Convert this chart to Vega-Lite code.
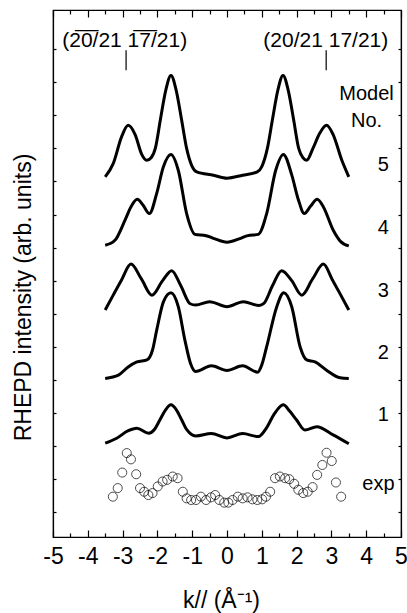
{
  "$schema": "https://vega.github.io/schema/vega-lite/v6.json",
  "width": 348,
  "height": 527,
  "autosize": {"type": "none"},
  "padding": {"left": 53, "top": 10, "right": 6, "bottom": 76},
  "background": "white",
  "config": {
    "font": "Liberation Sans",
    "view": {"stroke": "black", "strokeWidth": 1.2},
    "axis": {
      "grid": false,
      "domainColor": "black",
      "domainWidth": 1.2,
      "tickColor": "black",
      "tickWidth": 1.2,
      "labelColor": "black",
      "titleColor": "black",
      "labelFont": "Liberation Sans",
      "titleFont": "Liberation Sans",
      "labelFontSize": 23,
      "titleFontSize": 23,
      "titleFontWeight": "normal"
    }
  },
  "datasets": {
    "curves": [
      {"model": "5", "k": -3.5, "y": 10.14}, {"model": "5", "k": -3.27, "y": 10.54}, {"model": "5", "k": -3.03, "y": 11.35}, {"model": "5", "k": -2.84, "y": 11.7}, {"model": "5", "k": -2.64, "y": 11.42}, {"model": "5", "k": -2.45, "y": 10.82}, {"model": "5", "k": -2.31, "y": 10.64}, {"model": "5", "k": -2.18, "y": 10.72}, {"model": "5", "k": -2.06, "y": 11.0}, {"model": "5", "k": -1.91, "y": 11.9}, {"model": "5", "k": -1.76, "y": 12.76}, {"model": "5", "k": -1.61, "y": 13.21}, {"model": "5", "k": -1.46, "y": 12.76}, {"model": "5", "k": -1.31, "y": 11.9}, {"model": "5", "k": -1.16, "y": 11.0}, {"model": "5", "k": -1.0, "y": 10.45}, {"model": "5", "k": -0.87, "y": 10.29}, {"model": "5", "k": -0.39, "y": 10.19}, {"model": "5", "k": 0, "y": 10.1}, {"model": "5", "k": 0.45, "y": 10.19}, {"model": "5", "k": 0.87, "y": 10.29}, {"model": "5", "k": 1.0, "y": 10.45}, {"model": "5", "k": 1.16, "y": 11.0}, {"model": "5", "k": 1.31, "y": 11.9}, {"model": "5", "k": 1.46, "y": 12.76}, {"model": "5", "k": 1.61, "y": 13.21}, {"model": "5", "k": 1.76, "y": 12.76}, {"model": "5", "k": 1.91, "y": 11.9}, {"model": "5", "k": 2.06, "y": 11.0}, {"model": "5", "k": 2.18, "y": 10.72}, {"model": "5", "k": 2.29, "y": 10.64}, {"model": "5", "k": 2.47, "y": 11.0}, {"model": "5", "k": 2.66, "y": 11.45}, {"model": "5", "k": 2.86, "y": 11.7}, {"model": "5", "k": 3.05, "y": 11.42}, {"model": "5", "k": 3.3, "y": 10.64}, {"model": "5", "k": 3.5, "y": 10.14},
      {"model": "4", "k": -3.5, "y": 8.07}, {"model": "4", "k": -3.22, "y": 8.22}, {"model": "4", "k": -2.93, "y": 8.83}, {"model": "4", "k": -2.75, "y": 9.25}, {"model": "4", "k": -2.58, "y": 9.46}, {"model": "4", "k": -2.41, "y": 9.28}, {"model": "4", "k": -2.23, "y": 9.03}, {"model": "4", "k": -2.02, "y": 9.64}, {"model": "4", "k": -1.83, "y": 10.44}, {"model": "4", "k": -1.61, "y": 10.82}, {"model": "4", "k": -1.4, "y": 10.34}, {"model": "4", "k": -1.16, "y": 9.03}, {"model": "4", "k": -0.92, "y": 8.4}, {"model": "4", "k": -0.6, "y": 8.36}, {"model": "4", "k": -0.39, "y": 8.28}, {"model": "4", "k": 0, "y": 8.16}, {"model": "4", "k": 0.39, "y": 8.28}, {"model": "4", "k": 0.6, "y": 8.36}, {"model": "4", "k": 0.9, "y": 8.4}, {"model": "4", "k": 1.14, "y": 9.03}, {"model": "4", "k": 1.4, "y": 10.34}, {"model": "4", "k": 1.62, "y": 10.82}, {"model": "4", "k": 1.86, "y": 10.2}, {"model": "4", "k": 2.05, "y": 9.45}, {"model": "4", "k": 2.22, "y": 9.03}, {"model": "4", "k": 2.4, "y": 9.25}, {"model": "4", "k": 2.59, "y": 9.46}, {"model": "4", "k": 2.77, "y": 9.23}, {"model": "4", "k": 3.05, "y": 8.53}, {"model": "4", "k": 3.25, "y": 8.2}, {"model": "4", "k": 3.5, "y": 8.05},
      {"model": "3", "k": -3.5, "y": 6.11}, {"model": "3", "k": -3.27, "y": 6.56}, {"model": "3", "k": -3.03, "y": 7.02}, {"model": "3", "k": -2.76, "y": 7.5}, {"model": "3", "k": -2.46, "y": 7.05}, {"model": "3", "k": -2.16, "y": 6.56}, {"model": "3", "k": -1.85, "y": 7.0}, {"model": "3", "k": -1.59, "y": 7.3}, {"model": "3", "k": -1.33, "y": 6.85}, {"model": "3", "k": -1.06, "y": 6.3}, {"model": "3", "k": -0.9, "y": 6.26}, {"model": "3", "k": -0.5, "y": 6.36}, {"model": "3", "k": 0, "y": 6.21}, {"model": "3", "k": 0.47, "y": 6.36}, {"model": "3", "k": 0.92, "y": 6.25}, {"model": "3", "k": 1.06, "y": 6.31}, {"model": "3", "k": 1.31, "y": 6.85}, {"model": "3", "k": 1.57, "y": 7.3}, {"model": "3", "k": 1.86, "y": 7.0}, {"model": "3", "k": 2.15, "y": 6.56}, {"model": "3", "k": 2.46, "y": 7.05}, {"model": "3", "k": 2.77, "y": 7.5}, {"model": "3", "k": 3.03, "y": 7.02}, {"model": "3", "k": 3.27, "y": 6.56}, {"model": "3", "k": 3.5, "y": 6.11},
      {"model": "2", "k": -3.5, "y": 4.04}, {"model": "2", "k": -3.12, "y": 4.14}, {"model": "2", "k": -2.85, "y": 4.38}, {"model": "2", "k": -2.59, "y": 4.54}, {"model": "2", "k": -2.3, "y": 4.6}, {"model": "2", "k": -2.14, "y": 4.9}, {"model": "2", "k": -2.02, "y": 5.5}, {"model": "2", "k": -1.83, "y": 6.35}, {"model": "2", "k": -1.61, "y": 6.63}, {"model": "2", "k": -1.4, "y": 6.21}, {"model": "2", "k": -1.21, "y": 5.2}, {"model": "2", "k": -1.05, "y": 4.5}, {"model": "2", "k": -0.9, "y": 4.25}, {"model": "2", "k": -0.45, "y": 4.42}, {"model": "2", "k": 0, "y": 4.28}, {"model": "2", "k": 0.45, "y": 4.42}, {"model": "2", "k": 0.88, "y": 4.23}, {"model": "2", "k": 1.0, "y": 4.45}, {"model": "2", "k": 1.14, "y": 5.0}, {"model": "2", "k": 1.43, "y": 6.21}, {"model": "2", "k": 1.63, "y": 6.63}, {"model": "2", "k": 1.86, "y": 6.21}, {"model": "2", "k": 2.1, "y": 5.0}, {"model": "2", "k": 2.29, "y": 4.6}, {"model": "2", "k": 2.53, "y": 4.54}, {"model": "2", "k": 2.86, "y": 4.29}, {"model": "2", "k": 3.25, "y": 4.06}, {"model": "2", "k": 3.5, "y": 4.04},
      {"model": "1", "k": -3.5, "y": 2.08}, {"model": "1", "k": -3.17, "y": 2.23}, {"model": "1", "k": -2.85, "y": 2.45}, {"model": "1", "k": -2.59, "y": 2.53}, {"model": "1", "k": -2.25, "y": 2.38}, {"model": "1", "k": -2.08, "y": 2.5}, {"model": "1", "k": -1.93, "y": 2.78}, {"model": "1", "k": -1.77, "y": 3.08}, {"model": "1", "k": -1.61, "y": 3.24}, {"model": "1", "k": -1.45, "y": 3.08}, {"model": "1", "k": -1.3, "y": 2.78}, {"model": "1", "k": -1.15, "y": 2.48}, {"model": "1", "k": -0.9, "y": 2.3}, {"model": "1", "k": -0.45, "y": 2.37}, {"model": "1", "k": 0, "y": 2.24}, {"model": "1", "k": 0.45, "y": 2.37}, {"model": "1", "k": 0.9, "y": 2.28}, {"model": "1", "k": 1.14, "y": 2.55}, {"model": "1", "k": 1.35, "y": 2.95}, {"model": "1", "k": 1.62, "y": 3.24}, {"model": "1", "k": 1.8, "y": 3.05}, {"model": "1", "k": 2.0, "y": 2.78}, {"model": "1", "k": 2.24, "y": 2.48}, {"model": "1", "k": 2.58, "y": 2.58}, {"model": "1", "k": 3.05, "y": 2.33}, {"model": "1", "k": 3.5, "y": 2.06}
    ],
    "exp": [
      {"k": -3.28, "y": 0.46}, {"k": -3.14, "y": 0.72}, {"k": -3.01, "y": 1.19}, {"k": -2.88, "y": 1.78}, {"k": -2.76, "y": 1.59}, {"k": -2.61, "y": 1.14}, {"k": -2.5, "y": 0.72}, {"k": -2.38, "y": 0.61}, {"k": -2.26, "y": 0.51}, {"k": -2.14, "y": 0.57}, {"k": -1.99, "y": 0.77}, {"k": -1.85, "y": 0.92}, {"k": -1.72, "y": 0.97}, {"k": -1.56, "y": 1.07}, {"k": -1.42, "y": 1.02}, {"k": -1.27, "y": 0.61}, {"k": -1.16, "y": 0.41}, {"k": -1.03, "y": 0.36}, {"k": -0.89, "y": 0.36}, {"k": -0.75, "y": 0.46}, {"k": -0.6, "y": 0.36}, {"k": -0.46, "y": 0.44}, {"k": -0.34, "y": 0.51}, {"k": -0.22, "y": 0.36}, {"k": -0.08, "y": 0.28}, {"k": 0.04, "y": 0.28}, {"k": 0.16, "y": 0.36}, {"k": 0.31, "y": 0.46}, {"k": 0.45, "y": 0.41}, {"k": 0.59, "y": 0.44}, {"k": 0.73, "y": 0.38}, {"k": 0.87, "y": 0.36}, {"k": 1.01, "y": 0.38}, {"k": 1.12, "y": 0.46}, {"k": 1.24, "y": 0.61}, {"k": 1.38, "y": 1.02}, {"k": 1.52, "y": 1.07}, {"k": 1.67, "y": 1.02}, {"k": 1.79, "y": 0.99}, {"k": 1.93, "y": 0.85}, {"k": 2.05, "y": 0.67}, {"k": 2.19, "y": 0.57}, {"k": 2.32, "y": 0.61}, {"k": 2.46, "y": 0.75}, {"k": 2.59, "y": 1.12}, {"k": 2.74, "y": 1.42}, {"k": 2.86, "y": 1.79}, {"k": 3.01, "y": 1.54}, {"k": 3.13, "y": 0.89}, {"k": 3.28, "y": 0.46}
    ],
    "labels": [
      {"t": "Model", "k": 4.01, "y": 12.64}, {"t": "No.", "k": 4.01, "y": 11.82}, {"t": "5", "k": 4.49, "y": 10.49}, {"t": "4", "k": 4.49, "y": 8.6}, {"t": "3", "k": 4.49, "y": 6.68}, {"t": "2", "k": 4.49, "y": 4.82}, {"t": "1", "k": 4.49, "y": 2.94}, {"t": "exp", "k": 4.35, "y": 0.85}
    ],
    "toplabels": [
      {"t": "(2\u03050\u0305/21 1\u03057\u0305/21)", "k": -2.94, "y": 14.24},
      {"t": "(20/21 17/21)", "k": 2.84, "y": 14.24}
    ],
    "topticks": [
      {"k": -2.9, "y1": 13.97, "y2": 13.37},
      {"k": 2.85, "y1": 13.97, "y2": 13.37}
    ]
  },
  "layer": [
    {
      "data": {"name": "curves"},
      "mark": {"type": "line", "color": "black", "strokeWidth": 3, "interpolate": "monotone"},
      "encoding": {
        "x": {"field": "k", "type": "quantitative", "scale": {"domain": [-5, 5], "nice": false, "zero": false},
          "axis": {"orient": "bottom", "values": [-5, -4, -3, -2, -1, 0, 1, 2, 3, 4, 5], "tickSize": -7, "labelPadding": 15, "labelFlush": false, "labelOverlap": false, "labelBound": false, "labelExpr": "datum.value + ''", "title": "k// (Å⁻¹)", "titleX": 168, "titleY": 70, "titleBaseline": "alphabetic", "titleAlign": "center"}},
        "y": {"field": "y", "type": "quantitative", "scale": {"domain": [-0.76, 15.19], "nice": false, "zero": false},
          "axis": {"orient": "left", "values": [0, 1, 2, 3, 4, 5, 6, 7, 8, 9, 10, 11, 12, 13, 14], "tickSize": -3, "labels": false, "title": "RHEPD intensity (arb. units)", "titleX": -23, "titleY": 287, "titleBaseline": "alphabetic", "titleAlign": "center", "titleAngle": 270}},
        "detail": {"field": "model"}
      }
    },
    {
      "data": {"name": "exp"},
      "mark": {"type": "point", "shape": "circle", "filled": false, "size": 82, "stroke": "black", "strokeWidth": 1},
      "encoding": {
        "x": {"field": "k", "type": "quantitative", "scale": {"domain": [-5, 5], "nice": false, "zero": false},
          "axis": {"orient": "top", "values": [-5, -4, -3, -2, -1, 0, 1, 2, 3, 4, 5], "tickSize": -7, "labels": true, "labelExpr": "''", "labelFontSize": 6, "title": null}},
        "y": {"field": "y", "type": "quantitative", "scale": {"domain": [-0.76, 15.19], "nice": false, "zero": false},
          "axis": {"orient": "right", "values": [0, 1, 2, 3, 4, 5, 6, 7, 8, 9, 10, 11, 12, 13, 14], "tickSize": -3, "labels": true, "labelExpr": "''", "labelFontSize": 6, "title": null}}
      }
    },
    {
      "data": {"name": "labels"},
      "mark": {"type": "text", "fontSize": 20, "font": "Liberation Sans", "color": "black", "align": "center", "baseline": "middle"},
      "encoding": {
        "x": {"field": "k", "type": "quantitative", "scale": {"domain": [-5, 5], "nice": false, "zero": false},
          "axis": {"orient": "bottom", "values": [-4.5, -3.5, -2.5, -1.5, -0.5, 0.5, 1.5, 2.5, 3.5, 4.5], "tickSize": -4, "labels": true, "labelExpr": "''", "labelFontSize": 6, "domain": false, "title": null}},
        "y": {"field": "y", "type": "quantitative", "scale": {"domain": [-0.76, 15.19], "nice": false, "zero": false}, "axis": null},
        "text": {"field": "t"}
      }
    },
    {
      "data": {"name": "toplabels"},
      "mark": {"type": "text", "fontSize": 21, "font": "Liberation Sans", "color": "black", "align": "center", "baseline": "middle"},
      "encoding": {
        "x": {"field": "k", "type": "quantitative", "scale": {"domain": [-5, 5], "nice": false, "zero": false},
          "axis": {"orient": "top", "values": [-4.5, -3.5, -2.5, -1.5, -0.5, 0.5, 1.5, 2.5, 3.5, 4.5], "tickSize": -4, "labels": true, "labelExpr": "''", "labelFontSize": 6, "domain": false, "title": null}},
        "y": {"field": "y", "type": "quantitative", "scale": {"domain": [-0.76, 15.19], "nice": false, "zero": false}, "axis": null},
        "text": {"field": "t"}
      }
    },
    {
      "data": {"name": "topticks"},
      "mark": {"type": "rule", "color": "black", "strokeWidth": 1.2},
      "encoding": {
        "x": {"field": "k", "type": "quantitative", "scale": {"domain": [-5, 5], "nice": false, "zero": false}, "axis": null},
        "y": {"field": "y1", "type": "quantitative", "scale": {"domain": [-0.76, 15.19], "nice": false, "zero": false}, "axis": null},
        "y2": {"field": "y2"}
      }
    }
  ],
  "resolve": {"axis": {"x": "independent", "y": "independent"}}
}
